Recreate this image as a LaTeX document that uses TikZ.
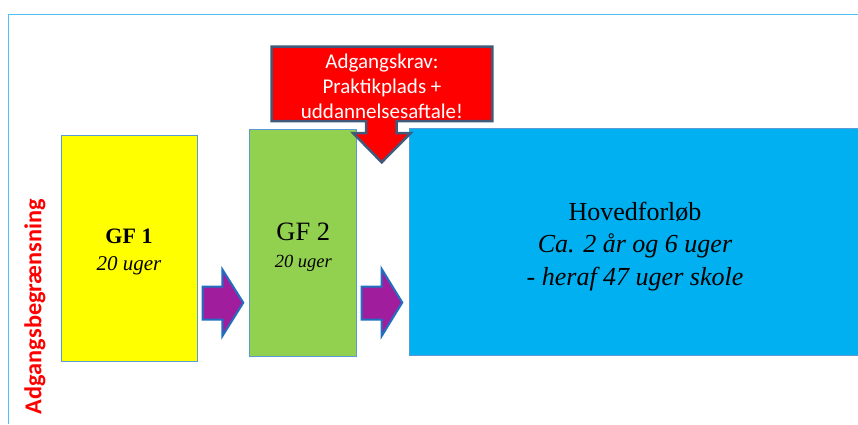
\documentclass[tikz,border=0pt]{standalone}
\usepackage{fontspec}
\setmainfont{Liberation Serif}
\newfontfamily\calibri{Carlito}
\definecolor{framecol}{HTML}{4FC3F0}
\definecolor{boxline}{HTML}{5B9BD5}
\definecolor{gfyellow}{HTML}{FFFF00}
\definecolor{gfgreen}{HTML}{92D050}
\definecolor{hovedblue}{HTML}{00B0F0}
\definecolor{kravred}{HTML}{FF0000}
\definecolor{kravline}{HTML}{41597A}
\definecolor{pilpurple}{HTML}{A01E9E}
\definecolor{pilline}{HTML}{1F70C0}
\tikzset{
  forloeb/.style={draw=boxline, line width=1pt, inner sep=0pt},
  tekst/.style={align=center, inner sep=0pt},
  pil/.style={fill=pilpurple, draw=pilline, line width=2pt, line join=miter},
}
\begin{document}
\begin{tikzpicture}[x=1pt, y=-1pt]
    \useasboundingbox (0,0) rectangle (858,424);
    \clip (0,0) rectangle (858,424);

    % ramme
    \draw[framecol, line width=1.5pt] (8.5,424) -- (8.5,14.5) -- (858,14.5);

    \node (adgang) [rotate=90, text=kravred, font=\calibri\bfseries\fontsize{24.3}{28}\selectfont] at (35,306.5) {Adgangsbegrænsning};

    \node (gfone) [forloeb, fill=gfyellow, minimum width=136pt, minimum height=226pt] at (129,248) {};
    \node (gftwo) [forloeb, fill=gfgreen, minimum width=106.7pt, minimum height=226.7pt] at (303.3,242.7) {};
    \node (hoved) [forloeb, fill=hovedblue, minimum width=451.4pt, minimum height=227.3pt] at (635,241.7) {};

    \node (gfonetekst) [tekst, font=\fontsize{22}{26.5}\selectfont] at ([yshift=-4pt]gfone.center)
        {\bfseries GF 1\\ {\itshape\fontsize{21}{26.5}\selectfont 20 uger}};
    \node (gftwotekst) [tekst, font=\fontsize{26.5}{27}\selectfont] at ([yshift=-4pt]gftwo.center)
        {GF 2\\ {\itshape\fontsize{18.5}{27}\selectfont 20 uger}};
    \node (hovedtekst) [tekst, font=\fontsize{26}{32.5}\selectfont] at ([yshift=-4.5pt]hoved.center)
        {Hovedforløb\\ \itshape Ca. 2 år og 6 uger\\ \itshape - heraf 47 uger skole};

    % pile
    \draw[pil] (202.7,286.7) -- (222.3,286.7) -- (222.3,269.3) -- (243.3,302.7) -- (222.3,336.3) -- (222.3,319.5) -- (202.7,319.5) -- cycle;
    \draw[pil] (361.7,286.7) -- (381.7,286.7) -- (381.7,269) -- (402.3,302.5) -- (381.7,336) -- (381.7,319.5) -- (361.7,319.5) -- cycle;

    % adgangskrav
    \draw[fill=kravred, draw=kravline, line width=2.5pt, line join=miter]
        (271.7,46.7) -- (492.3,46.7) -- (492.3,121) -- (396.7,121) -- (396.7,133) -- (410.7,133)
        -- (381.7,162.3) -- (353,133) -- (366,133) -- (366,121) -- (271.7,121) -- cycle;
    \node (krav) [tekst, text=white, font=\calibri\fontsize{21}{25}\selectfont] at (382,86.5)
        {Adgangskrav:\\ Praktikplads +\\ uddannelsesaftale!};
\end{tikzpicture}
\end{document}
